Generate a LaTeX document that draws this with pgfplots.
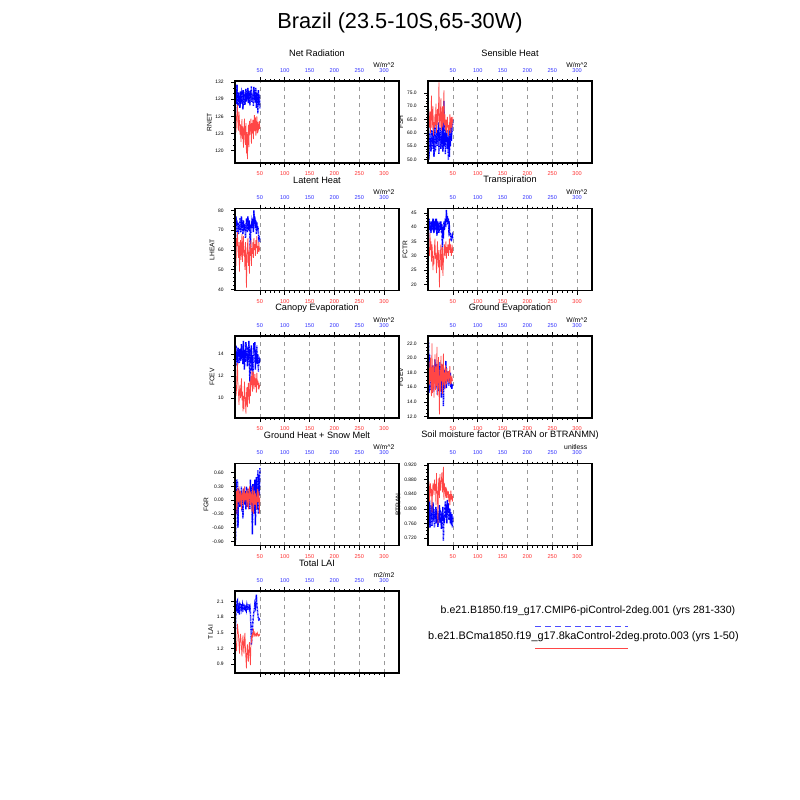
\documentclass[border=0pt]{standalone}
\usepackage{fontspec}
\setmainfont{Liberation Sans}
\usepackage{pgfplots}
\pgfplotsset{compat=1.18}
\usepackage{pgfplotstable}

\definecolor{lred}{RGB}{255,70,70}
\definecolor{lblue}{RGB}{0,0,255}
\definecolor{tred}{RGB}{255,50,50}
\definecolor{tblue}{RGB}{50,50,255}
\newcommand\fs[1]{\fontsize{#1}{#1}\selectfont}

\pgfplotstableread[row sep=\\]{v\\126.5\\130.8\\128.2\\131.6\\129.0\\127.8\\130.2\\128.5\\129.6\\127.5\\130.4\\129.0\\128.2\\130.0\\129.5\\127.2\\130.6\\128.8\\129.9\\128.0\\129.4\\130.8\\128.6\\130.2\\129.1\\131.0\\128.3\\130.4\\129.8\\127.9\\130.5\\129.2\\131.3\\128.5\\130.0\\129.6\\127.8\\131.2\\129.0\\130.3\\128.4\\131.0\\127.5\\130.1\\129.3\\126.5\\130.6\\128.0\\129.8\\127.4\\}\RNb
\pgfplotstableread[row sep=\\]{v\\124.5\\123.2\\125.8\\126.5\\128.0\\124.0\\123.5\\126.8\\125.0\\122.8\\124.6\\121.5\\123.8\\125.5\\122.0\\124.2\\120.5\\123.0\\125.6\\122.4\\121.0\\124.8\\119.5\\123.2\\118.5\\121.8\\124.5\\120.6\\125.2\\122.8\\124.0\\125.6\\121.2\\124.8\\123.0\\125.4\\122.0\\124.6\\126.2\\123.4\\125.8\\122.6\\124.4\\126.0\\123.0\\125.0\\123.6\\124.0\\125.2\\123.8\\}\RNr
\pgfplotstableread[row sep=\\]{v\\68\\50\\60\\55\\58\\53\\61\\56\\60\\54\\62\\51\\57\\63\\53\\59\\56\\61\\55\\58\\64\\52\\60\\57\\62\\54\\59\\56\\63\\53\\58\\72\\55\\60\\52\\63\\57\\61\\54\\58\\50\\62\\51\\59\\55\\63\\57\\60\\62\\65\\}\FSb
\pgfplotstableread[row sep=\\]{v\\71\\64\\62\\68\\60\\66\\74\\62\\65\\70\\59\\64\\62\\67\\63\\71\\60\\66\\69\\63\\67\\79\\65\\62\\68\\73\\61\\64\\70\\62\\66\\76\\63\\67\\61\\65\\60\\64\\66\\62\\59\\63\\61\\67\\64\\60\\66\\62\\64\\66\\}\FSr
\pgfplotstableread[row sep=\\]{v\\60\\77\\72\\75\\69\\74\\68\\72\\70\\76\\73\\69\\77\\71\\74\\68\\75\\72\\70\\73\\66\\71\\76\\74\\69\\77\\72\\70\\75\\68\\57\\73\\71\\74\\72\\76\\69\\80\\73\\77\\71\\75\\68\\74\\70\\72\\69\\66\\67\\64\\}\LHb
\pgfplotstableread[row sep=\\]{v\\58\\52\\66\\62\\69\\60\\56\\64\\49\\61\\65\\55\\62\\68\\54\\63\\67\\57\\60\\50\\64\\58\\41\\55\\62\\66\\52\\59\\48\\63\\57\\65\\52\\61\\58\\64\\56\\66\\60\\63\\57\\65\\61\\67\\58\\62\\59\\64\\60\\61\\}\LHr
\pgfplotstableread[row sep=\\]{v\\35\\43\\39\\42\\40\\38\\42\\39\\41\\40\\43\\38\\42\\39\\41\\40\\43\\37\\42\\39\\41\\38\\42\\40\\39\\42\\38\\41\\32\\40\\36\\42\\39\\41\\43\\40\\46\\42\\44\\41\\43\\39\\40\\37\\38\\36\\35\\36\\37\\36\\}\FTb
\pgfplotstableread[row sep=\\]{v\\29\\33\\30\\38\\32\\35\\28\\34\\31\\25\\30\\27\\33\\36\\29\\31\\24\\28\\35\\30\\26\\32\\19\\27\\31\\34\\25\\29\\33\\23\\28\\31\\34\\30\\32\\35\\29\\33\\31\\34\\30\\32\\36\\33\\31\\34\\30\\32\\33\\31\\}\FTr
\pgfplotstableread[row sep=\\]{v\\12.8\\14.8\\13.5\\14.2\\13.0\\14.6\\13.8\\14.0\\13.2\\14.5\\13.7\\13.4\\14.9\\13.6\\14.3\\13.1\\15.2\\13.9\\12.6\\14.4\\13.3\\15.1\\13.8\\14.1\\12.9\\14.7\\13.5\\15.2\\13.0\\11.5\\14.5\\13.2\\14.8\\12.5\\13.9\\12.1\\13.6\\15.0\\14.2\\15.1\\12.6\\14.4\\13.3\\14.8\\13.1\\14.0\\12.4\\13.8\\13.2\\13.6\\}\FCb
\pgfplotstableread[row sep=\\]{v\\11.0\\10.2\\10.8\\12.4\\13.2\\11.0\\10.5\\9.4\\10.6\\11.2\\10.0\\10.5\\11.8\\9.8\\10.6\\8.8\\10.2\\9.0\\11.5\\10.4\\9.6\\8.6\\10.3\\11.0\\9.2\\10.8\\11.4\\10.0\\9.5\\11.6\\10.2\\12.0\\11.2\\12.5\\10.6\\11.8\\12.4\\10.8\\11.6\\12.2\\11.0\\11.8\\10.5\\12.3\\11.2\\11.6\\10.8\\11.4\\11.0\\11.2\\}\FCr
\pgfplotstableread[row sep=\\]{v\\22.4\\15.2\\20.5\\16.8\\18.6\\15.6\\17.9\\16.2\\19.0\\15.4\\18.2\\16.6\\17.4\\19.8\\15.8\\18.0\\16.4\\19.2\\15.0\\17.6\\16.9\\18.8\\15.5\\19.4\\16.2\\17.8\\14.6\\18.6\\16.0\\19.1\\13.4\\17.2\\15.8\\18.4\\16.6\\19.6\\15.9\\17.4\\16.8\\18.2\\17.0\\16.2\\17.6\\16.8\\18.0\\16.0\\16.6\\15.8\\16.4\\16.2\\}\FGb
\pgfplotstableread[row sep=\\]{v\\15.0\\19.5\\16.4\\18.2\\20.0\\15.8\\14.8\\22.0\\15.2\\17.6\\19.0\\14.6\\17.0\\20.5\\15.6\\18.8\\16.2\\21.5\\14.9\\17.5\\20.1\\16.0\\12.3\\18.4\\15.4\\20.3\\16.8\\19.2\\15.1\\17.8\\20.6\\16.3\\18.0\\15.7\\19.0\\17.2\\16.4\\18.6\\17.4\\16.8\\18.2\\16.6\\17.8\\18.9\\16.4\\17.2\\16.8\\17.6\\16.9\\17.0\\}\FGr
\pgfplotstableread[row sep=\\]{v\\-0.9\\0.45\\-0.3\\0.2\\0.45\\-0.6\\0.25\\-0.1\\0.15\\-0.15\\0.2\\0.0\\0.3\\-0.25\\0.15\\-0.4\\0.1\\0.25\\-0.1\\0.2\\0.05\\-0.2\\0.3\\0.1\\-0.15\\0.25\\-0.05\\0.2\\0.1\\-0.2\\0.45\\-0.1\\0.3\\0.0\\-0.75\\0.35\\0.1\\-0.3\\0.2\\0.45\\-0.55\\0.1\\0.5\\-0.2\\0.3\\0.65\\-0.3\\0.55\\0.1\\0.7\\}\GRb
\pgfplotstableread[row sep=\\]{v\\0.1\\-0.2\\0.2\\-0.3\\0.25\\0.1\\-0.05\\0.3\\0.0\\-0.1\\0.2\\0.1\\-0.2\\0.15\\0.0\\0.25\\-0.1\\0.1\\0.3\\-0.05\\0.15\\0.0\\0.2\\-0.15\\0.1\\0.25\\-0.2\\0.05\\0.3\\0.0\\-0.1\\0.2\\0.1\\-0.25\\0.15\\0.3\\-0.3\\0.05\\0.2\\-0.1\\0.15\\0.0\\-0.2\\0.1\\0.25\\-0.05\\0.1\\0.2\\-0.3\\0.05\\}\GRr
\pgfplotstableread[row sep=\\]{v\\0.855\\0.760\\0.825\\0.748\\0.795\\0.770\\0.810\\0.752\\0.785\\0.818\\0.765\\0.800\\0.748\\0.790\\0.772\\0.805\\0.760\\0.795\\0.780\\0.750\\0.788\\0.770\\0.810\\0.762\\0.798\\0.776\\0.745\\0.790\\0.768\\0.805\\0.712\\0.780\\0.760\\0.800\\0.820\\0.775\\0.812\\0.760\\0.825\\0.790\\0.815\\0.770\\0.780\\0.800\\0.760\\0.790\\0.755\\0.785\\0.748\\0.780\\}\BTb
\pgfplotstableread[row sep=\\]{v\\0.840\\0.875\\0.820\\0.860\\0.870\\0.835\\0.855\\0.790\\0.845\\0.870\\0.860\\0.838\\0.880\\0.850\\0.868\\0.810\\0.898\\0.855\\0.840\\0.760\\0.865\\0.885\\0.830\\0.895\\0.850\\0.870\\0.880\\0.900\\0.845\\0.860\\0.915\\0.825\\0.870\\0.850\\0.840\\0.860\\0.830\\0.850\\0.845\\0.830\\0.848\\0.820\\0.840\\0.810\\0.830\\0.850\\0.825\\0.840\\0.820\\0.835\\}\BTr
\pgfplotstableread[row sep=\\]{v\\1.55\\2.05\\1.92\\2.10\\2.12\\1.88\\1.95\\2.00\\1.85\\2.08\\1.98\\1.92\\2.05\\1.96\\2.02\\1.90\\2.06\\1.99\\1.93\\2.04\\1.97\\2.01\\1.95\\2.03\\1.98\\1.94\\2.00\\2.05\\1.96\\1.99\\1.88\\1.62\\1.27\\1.45\\1.58\\1.70\\1.82\\1.90\\1.95\\2.05\\2.00\\2.12\\2.23\\2.05\\1.95\\1.85\\1.78\\1.75\\1.76\\1.74\\}\LAb
\pgfplotstableread[row sep=\\]{v\\1.20\\1.25\\1.15\\1.40\\1.67\\1.55\\1.45\\1.30\\1.10\\1.35\\1.48\\1.38\\1.22\\1.05\\1.30\\1.45\\1.25\\1.10\\1.38\\1.50\\1.20\\1.00\\0.82\\1.15\\1.28\\1.05\\0.95\\1.20\\1.32\\1.10\\0.88\\1.25\\1.40\\1.35\\1.50\\1.42\\1.58\\1.48\\1.45\\1.50\\1.46\\1.44\\1.48\\1.45\\1.50\\1.47\\1.44\\1.46\\1.45\\1.48\\}\LAr

\pgfplotsset{
  panel/.style={scale only axis, width=123pt, height=61.5pt, anchor=north west,
    xmin=0, xmax=330, /pgf/number format/assume math mode=true,
    axis line style={line width=0.8pt}, tick align=outside,
    major tick length=3pt, minor tick length=1.5pt,
    every tick/.style={black, line width=0.4pt},
    xtick={50,100,...,300}, minor x tick num=4},
  mainax/.style={panel, xtick pos=left, ytick pos=left,
    xmajorgrids, major x grid style={dashed, gray!80, line width=0.4pt},
    xticklabel style={font=\fs{4.2}, text=tred},
    yticklabel style={font=\fs{3.7}}, yticklabel shift=2pt,
    ylabel style={font=\fs{5}}, ylabel shift=-4pt},
  topax/.style={panel, clip=false, ymin=0, ymax=1, ytick=\empty, xtick pos=right, xticklabel pos=right,
    xticklabel style={font=\fs{4.2}, text=tblue}},
  bl/.style={lblue, line width=1.1pt, dash pattern=on 0.6pt off 0.45pt},
  rd/.style={lred, line width=0.55pt},
}
\newcommand\ttl[2]{\node[font=\fs{6.9}] at ([yshift=21pt]axis description cs:0.5,1) {#1};
  \node[font=\fs{5.1}, anchor=east] at ([yshift=12pt]axis description cs:1,1) {#2};}

\begin{document}
\begin{tikzpicture}
\useasboundingbox (0,0) rectangle (600pt,-600pt);
\node[font=\fs{16.3}] at (300pt,-17.25pt) {Brazil (23.5-10S,65-30W)};

% RNET
\begin{axis}[mainax, at={(176.25pt,-60.75pt)}, ymin=117.8, ymax=132.2, ytick={120,123,126,129,132}, minor y tick num=2, ylabel={RNET}]
\addplot[bl] table[x expr=\coordindex+1, y=v]{\RNb};
\addplot[rd] table[x expr=\coordindex+1, y=v]{\RNr};
\end{axis}
\begin{axis}[topax, at={(176.25pt,-60.75pt)}]\ttl{Net Radiation}{W/m\textasciicircum2}\end{axis}

% FSH
\begin{axis}[mainax, at={(321pt,-60.75pt)}, ymin=48.7, ymax=79.5, ytick={50,55,...,75}, minor y tick num=4, ylabel={FSH}, yticklabel style={/pgf/number format/.cd, fixed, fixed zerofill, precision=1}]
\addplot[bl] table[x expr=\coordindex+1, y=v]{\FSb};
\addplot[rd] table[x expr=\coordindex+1, y=v]{\FSr};
\end{axis}
\begin{axis}[topax, at={(321pt,-60.75pt)}]\ttl{Sensible Heat}{W/m\textasciicircum2}\end{axis}

% LHEAT
\begin{axis}[mainax, at={(176.25pt,-156.375pt)}, ymin=39.5, ymax=81, ytick={40,50,...,80}, minor y tick num=4, ylabel={LHEAT}]
\addplot[bl] table[x expr=\coordindex+1, y=v]{\LHb};
\addplot[rd] table[x expr=\coordindex+1, y=v]{\LHr};
\end{axis}
\begin{axis}[topax, at={(176.25pt,-156.375pt)}]\ttl{Latent Heat}{W/m\textasciicircum2}\end{axis}

% FCTR
\begin{axis}[mainax, at={(321pt,-156.375pt)}, ymin=17.9, ymax=46.5, ytick={20,25,...,45}, minor y tick num=4, ylabel={FCTR}]
\addplot[bl] table[x expr=\coordindex+1, y=v]{\FTb};
\addplot[rd] table[x expr=\coordindex+1, y=v]{\FTr};
\end{axis}
\begin{axis}[topax, at={(321pt,-156.375pt)}]\ttl{Transpiration}{W/m\textasciicircum2}\end{axis}

% FCEV
\begin{axis}[mainax, at={(176.25pt,-252pt)}, ymin=8.2, ymax=15.65, ytick={10,12,14}, minor y tick num=3, ylabel={FCEV}]
\addplot[bl] table[x expr=\coordindex+1, y=v]{\FCb};
\addplot[rd] table[x expr=\coordindex+1, y=v]{\FCr};
\end{axis}
\begin{axis}[topax, at={(176.25pt,-252pt)}]\ttl{Canopy Evaporation}{W/m\textasciicircum2}\end{axis}

% FGEV
\begin{axis}[mainax, at={(321pt,-252pt)}, ymin=11.8, ymax=23.0, ytick={12,14,...,22}, minor y tick num=3, ylabel={FGEV}, yticklabel style={/pgf/number format/.cd, fixed, fixed zerofill, precision=1}]
\addplot[bl] table[x expr=\coordindex+1, y=v]{\FGb};
\addplot[rd] table[x expr=\coordindex+1, y=v]{\FGr};
\end{axis}
\begin{axis}[topax, at={(321pt,-252pt)}]\ttl{Ground Evaporation}{W/m\textasciicircum2}\end{axis}

% FGR
\begin{axis}[mainax, at={(176.25pt,-347.625pt)}, ymin=-0.99, ymax=0.80, ytick={-0.9,-0.6,-0.3,0,0.3,0.6}, minor y tick num=2, ylabel={FGR}, yticklabel style={/pgf/number format/.cd, fixed, fixed zerofill, precision=2}]
\addplot[bl] table[x expr=\coordindex+1, y=v]{\GRb};
\addplot[rd] table[x expr=\coordindex+1, y=v]{\GRr};
\end{axis}
\begin{axis}[topax, at={(176.25pt,-347.625pt)}]\ttl{Ground Heat + Snow Melt}{W/m\textasciicircum2}\end{axis}

% BTRAN
\begin{axis}[mainax, at={(321pt,-347.625pt)}, ymin=0.699, ymax=0.9245, ytick={0.72,0.76,0.80,0.84,0.88,0.92}, minor y tick num=3, ylabel={BTRAN}, yticklabel style={/pgf/number format/.cd, fixed, fixed zerofill, precision=3}]
\addplot[bl] table[x expr=\coordindex+1, y=v]{\BTb};
\addplot[rd] table[x expr=\coordindex+1, y=v]{\BTr};
\end{axis}
\begin{axis}[topax, at={(321pt,-347.625pt)}]\ttl{Soil moisture factor (BTRAN or BTRANMN)}{unitless}\end{axis}

% TLAI
\begin{axis}[mainax, at={(176.25pt,-443.25pt)}, ymin=0.73, ymax=2.30, ytick={0.9,1.2,1.5,1.8,2.1}, minor y tick num=2, ylabel={TLAI}, xticklabels={}, yticklabel style={/pgf/number format/.cd, fixed, fixed zerofill, precision=1}]
\addplot[bl] table[x expr=\coordindex+1, y=v]{\LAb};
\addplot[rd] table[x expr=\coordindex+1, y=v]{\LAr};
\end{axis}
\begin{axis}[topax, at={(176.25pt,-443.25pt)}]\ttl{Total LAI}{m2/m2}\end{axis}

% legend
\node[font=\fs{7.9}] at (441pt,-458.25pt) {b.e21.B1850.f19\_g17.CMIP6-piControl-2deg.001 (yrs 281-330)};
\draw[lblue!70!white, line width=0.6pt, dash pattern=on 4.5pt off 3pt] (401.25pt,-469.5pt) -- (471pt,-469.5pt);
\node[font=\fs{8.2}] at (437.6pt,-477.75pt) {b.e21.BCma1850.f19\_g17.8kaControl-2deg.proto.003 (yrs 1-50)};
\draw[lred, line width=0.6pt] (401.25pt,-486pt) -- (471pt,-486pt);
\end{tikzpicture}
\end{document}
